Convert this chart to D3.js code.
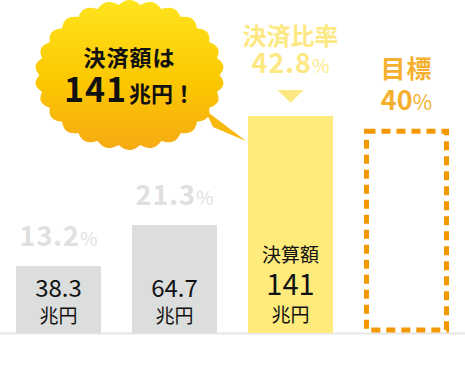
<!DOCTYPE html>
<html>
<head>
<meta charset="utf-8">
<script src="https://cdn.jsdelivr.net/npm/d3@7"></script>
<style>
  body { margin: 0; background: #fff; }
  svg { display: block; font-family: "Noto Sans CJK JP", "Noto Sans", sans-serif; }
</style>
</head>
<body>
<script>
var categories = ["2018", "2021", "2024", "target"];
var amounts = [38.3, 64.7, 141];
var rates = [13.2, 21.3, 42.8];
var targetRate = 40;
var rateLabels = ["13.2", "21.3", "42.8"];

chart();

function chart()
{
    var width = 465,
        height = 370,
        base = 333;

    var svg = d3.select("body").append("svg")
        .attr("width", width)
        .attr("height", height);

    var x = d3.scaleBand()
        .domain(categories)
        .range([0, width])
        .paddingInner(0.267)
        .paddingOuter(0.138);

    var y = d3.scaleLinear()
        .domain([0, 50])
        .range([base, base - 50 * 5.07]);

    var bw = x.bandwidth();
    var barColors = ["#dcdddd", "#dcdddd", "#feeb7c"];

    // baseline
    svg.append("line")
        .attr("x1", 0).attr("x2", width)
        .attr("y1", base + 0.5).attr("y2", base + 0.5)
        .attr("stroke", "#e6e6e6")
        .attr("stroke-width", 2);

    svg.selectAll(".bar")
        .data(rates)
        .enter()
        .append("rect")
        .attr("class", "bar")
        .attr("x", function (d, i) { return x(categories[i]); })
        .attr("y", function (d) { return y(d); })
        .attr("width", bw)
        .attr("height", function (d) { return base - y(d); })
        .attr("fill", function (d, i) { return barColors[i]; });

    // target dashed box
    svg.append("rect")
        .attr("x", x("target") + 2.5)
        .attr("y", y(targetRate) + 1)
        .attr("width", bw - 5)
        .attr("height", base - 3 - y(targetRate) - 1)
        .attr("fill", "none")
        .attr("stroke", "#f39800")
        .attr("stroke-width", 5)
        .attr("stroke-dasharray", "9,6");

    // values inside bars
    [0, 1].forEach(function (i) {
        var cx = x(categories[i]) + bw / 2;
        svg.append("text")
            .attr("x", cx).attr("y", 297)
            .attr("text-anchor", "middle")
            .attr("font-size", 24)
            .attr("fill", "#111")
            .text(amounts[i]);
        svg.append("text")
            .attr("x", cx).attr("y", 323)
            .attr("text-anchor", "middle")
            .attr("font-size", 19)
            .attr("fill", "#111")
            .text("兆円");
    });

    var c3 = x(categories[2]) + bw / 2;
    svg.append("text").attr("x", c3).attr("y", 262)
        .attr("text-anchor", "middle").attr("font-size", 19).attr("fill", "#111")
        .text("決算額");
    svg.append("text").attr("x", c3).attr("y", 295)
        .attr("text-anchor", "middle").attr("font-size", 29).attr("fill", "#111")
        .text(amounts[2]);
    svg.append("text").attr("x", c3).attr("y", 322)
        .attr("text-anchor", "middle").attr("font-size", 19).attr("fill", "#111")
        .text("兆円");

    // rate labels
    var rateColors = ["#e0e0e0", "#e0e0e0", "#fde883"];
    rates.forEach(function (r, i) {
        var t = svg.append("text")
            .attr("x", x(categories[i]) + bw / 2)
            .attr("y", i < 2 ? y(r) - 20 : 73)
            .attr("text-anchor", "middle")
            .attr("fill", rateColors[i]);
        t.append("tspan")
            .attr("font-size", 27).attr("font-weight", "bold")
            .attr("letter-spacing", 1)
            .text(rateLabels[i]);
        t.append("tspan")
            .attr("font-size", 19)
            .text("%");
    });

    svg.append("text")
        .attr("x", c3).attr("y", 45)
        .attr("text-anchor", "middle")
        .attr("font-size", 24).attr("font-weight", "bold")
        .attr("fill", "#fde883")
        .text("決済比率");

    svg.append("path")
        .attr("d", "M" + (c3 - 13) + ",90L" + (c3 + 13) + ",90L" + c3 + ",103Z")
        .attr("fill", "#fde883");

    var c4 = x("target") + bw / 2;
    svg.append("text")
        .attr("x", c4).attr("y", 78)
        .attr("text-anchor", "middle")
        .attr("font-size", 25).attr("font-weight", "bold")
        .attr("letter-spacing", 1)
        .attr("fill", "#f5b030")
        .text("目標");
    var tt = svg.append("text")
        .attr("x", c4).attr("y", 110)
        .attr("text-anchor", "middle")
        .attr("fill", "#f5b030");
    tt.append("tspan").attr("font-size", 27).attr("font-weight", "bold").text(targetRate);
    tt.append("tspan").attr("font-size", 21).text("%");

    // speech bubble
    var defs = svg.append("defs");
    var grad = defs.append("linearGradient")
        .attr("id", "bub")
        .attr("x1", 0).attr("y1", 0).attr("x2", 0).attr("y2", 1);
    grad.append("stop").attr("offset", "0%").attr("stop-color", "#ffe41e");
    grad.append("stop").attr("offset", "55%").attr("stop-color", "#fbc700");
    grad.append("stop").attr("offset", "100%").attr("stop-color", "#f6aa14");

    var bcx = 129.5, bcy = 75, rx = 90, ry = 70.5, amp = 4.5, bumps = 26;
    var pts = d3.range(0, 721).map(function (k) {
        var t = k / 720 * 2 * Math.PI;
        var w = amp * Math.abs(Math.sin(bumps * t / 2));
        return [bcx + (rx + w) * Math.cos(t), bcy + (ry + w) * Math.sin(t)];
    });

    var g = svg.append("g");
    g.append("path")
        .attr("d", "M205,110L246,141L213,127Z")
        .attr("fill", "#f7b80a");
    g.append("path")
        .attr("d", d3.line()(pts) + "Z")
        .attr("fill", "url(#bub)");

    g.append("text")
        .attr("x", bcx).attr("y", 66)
        .attr("text-anchor", "middle")
        .attr("font-size", 22).attr("font-weight", "bold")
        .attr("letter-spacing", 1)
        .attr("fill", "#111")
        .text("決済額は");
    var bt = g.append("text")
        .attr("x", bcx).attr("y", 102)
        .attr("text-anchor", "middle")
        .attr("fill", "#111")
        .attr("font-weight", "bold");
    bt.append("tspan").attr("font-size", 34).attr("letter-spacing", 1).text(amounts[2]);
    bt.append("tspan").attr("font-size", 22).attr("dx", 2).text("兆円！");
}
</script>
</body>
</html>
